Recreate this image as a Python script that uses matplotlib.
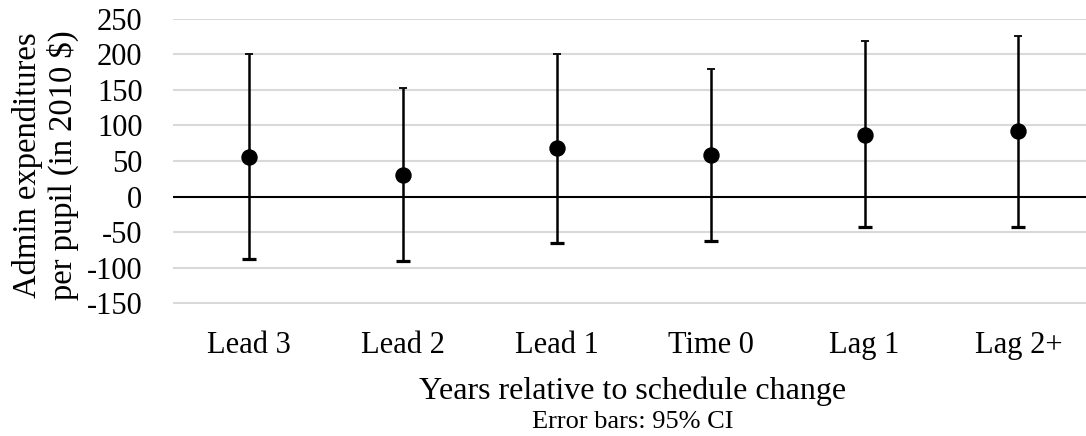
import matplotlib
matplotlib.use("Agg")
import matplotlib.pyplot as plt
import numpy as np

categories = ["Lead 3", "Lead 2", "Lead 1", "Time 0", "Lag 1", "Lag 2+"]
estimates = [56, 31, 68, 59, 87, 92]
ci_upper = [200, 152, 201, 180, 218, 225]
ci_lower = [-88, -91, -65, -62, -42, -42]
yticks = [-150, -100, -50, 0, 50, 100, 150, 200, 250]

plt.rcParams['font.family'] = ['Liberation Serif', 'DejaVu Serif']

W, H = 1086, 436
fig = plt.figure(figsize=(W/100, H/100), dpi=100)
ax = fig.add_axes([172.5/W, 1-303.5/H, 1-172.5/W, (303.5-18.7)/H])

x = np.arange(len(categories))
est = np.array(estimates)
up = np.array(ci_upper)
lo = np.array(ci_lower)

for v in yticks:
    if v == 0:
        continue
    ax.axhline(v, color='#d9d9d9', lw=1.5, zorder=0)
ax.axhline(0, color='black', lw=1.5, zorder=1)

ax.errorbar(x, est, yerr=[est-lo, up-est], fmt='o', color='black', ms=10.8,
            elinewidth=1.8, capsize=0, zorder=3)
ax.plot(x, up, linestyle='none', marker='_', ms=5.5, mew=1.3, color='black', zorder=3)
ax.plot(x, lo, linestyle='none', marker='_', ms=10.5, mew=2.3, color='black', zorder=3)

ax.set_xlim(-0.5, 5.44)
ax.set_ylim(-150, 250)
ax.set_yticks(yticks)
ax.set_yticklabels([str(v) for v in yticks], fontsize=22)
ax.set_xticks(x)
ax.set_xticklabels(categories, fontsize=22)
ax.tick_params(axis='both', length=0)
ax.tick_params(axis='y', pad=21.6)
ax.tick_params(axis='x', pad=19.5)
for s in ax.spines.values():
    s.set_visible(False)

fig.text(633/W, 1-399/H, "Years relative to schedule change",
         ha='center', va='baseline', fontsize=23)
fig.text(633/W, 1-428/H, "Error bars: 95% CI",
         ha='center', va='baseline', fontsize=19)
fig.text(45.5/W, 1-165/H, "Admin expenditures\nper pupil (in 2010 $)",
         rotation=90, ha='center', va='center', fontsize=23.5, linespacing=1.15)

fig.savefig("out.png", dpi=100)
